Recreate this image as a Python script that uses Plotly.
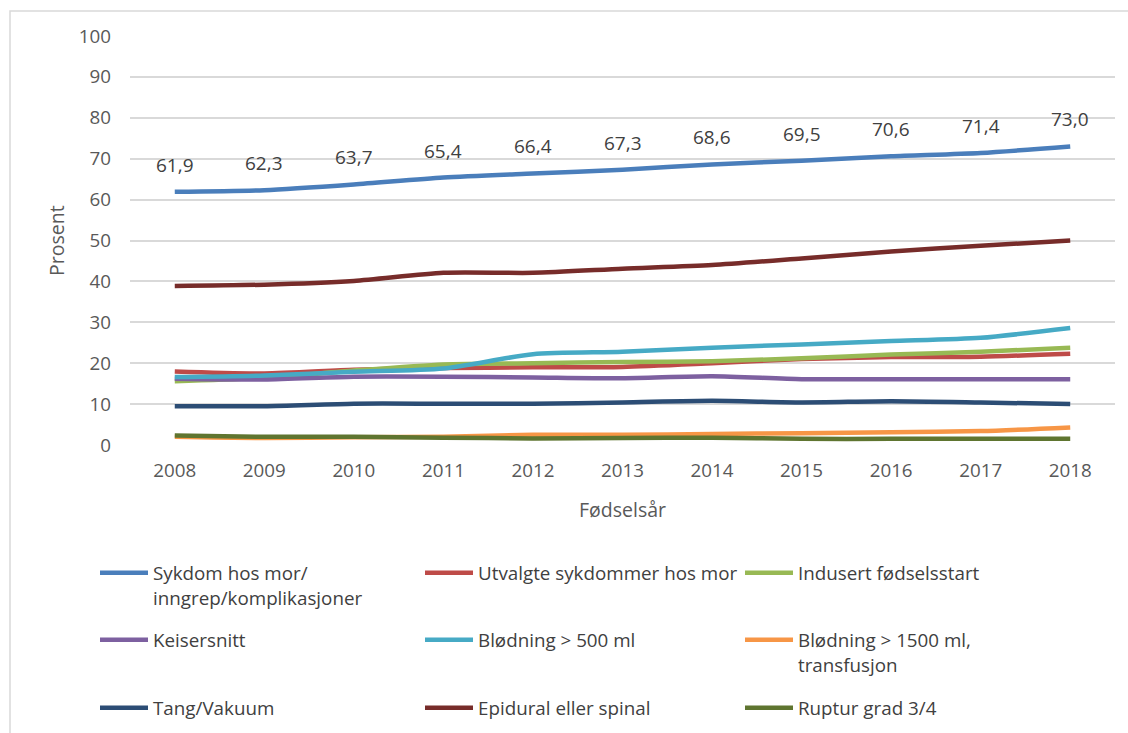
import plotly.graph_objects as go

# Fødselsår (x-axis categories)
years = [2008, 2009, 2010, 2011, 2012, 2013, 2014, 2015, 2016, 2017, 2018]

# Andel (prosent) per indikator
sykdom_hos_mor = [61.9, 62.3, 63.7, 65.4, 66.4, 67.3, 68.6, 69.5, 70.6, 71.4, 73.0]
utvalgte_sykdommer = [18.0, 17.5, 18.4, 18.8, 19.0, 19.1, 20.0, 21.0, 21.5, 21.6, 22.3]
indusert_start = [15.6, 16.4, 18.2, 19.7, 20.0, 20.3, 20.5, 21.2, 22.1, 22.8, 23.8]
keisersnitt = [16.2, 16.0, 16.7, 16.7, 16.5, 16.3, 16.8, 16.1, 16.1, 16.1, 16.1]
blodning_500 = [16.6, 17.0, 17.9, 18.7, 22.2, 22.8, 23.8, 24.6, 25.4, 26.2, 28.6]
blodning_1500 = [2.0, 1.7, 1.9, 2.0, 2.5, 2.5, 2.7, 2.9, 3.1, 3.4, 4.3]
tang_vakuum = [9.5, 9.5, 10.1, 10.1, 10.1, 10.4, 10.8, 10.4, 10.7, 10.4, 10.0]
epidural = [38.9, 39.2, 40.1, 42.1, 42.1, 43.1, 44.0, 45.6, 47.3, 48.7, 50.0]
ruptur = [2.3, 2.0, 2.0, 1.8, 1.6, 1.7, 1.8, 1.5, 1.5, 1.5, 1.5]

y_ticks = [0, 10, 20, 30, 40, 50, 60, 70, 80, 90, 100]

FONT = "Open Sans"
W, H = 1128, 733
ML, MR, MT, MB = 130, 13, 36, 288
PW = W - ML - MR
PH = H - MT - MB

# (navn, verdier, farge) in legend order: row by row, three columns
series = [
    ("Sykdom hos mor/<br>inngrep/komplikasjoner", sykdom_hos_mor, "#4A7EBB"),
    ("Utvalgte sykdommer hos mor", utvalgte_sykdommer, "#BE4B48"),
    ("Indusert fødselsstart", indusert_start, "#98B954"),
    ("Keisersnitt", keisersnitt, "#7D60A0"),
    ("Blødning > 500 ml", blodning_500, "#46AAC5"),
    ("Blødning > 1500 ml,<br>transfusjon", blodning_1500, "#F79646"),
    ("Tang/Vakuum", tang_vakuum, "#2C4D75"),
    ("Epidural eller spinal", epidural, "#772C2A"),
    ("Ruptur grad 3/4", ruptur, "#5F7530"),
]

# legend block layout (pixel positions of each entry's box)
legend_cols = [95, 420, 740]
legend_rows = [554, 621, 689]

fig = go.Figure()
layout_legends = {}
for i, (name, vals, color) in enumerate(series):
    lid = "legend" if i == 0 else f"legend{i + 1}"
    fig.add_trace(go.Scatter(
        x=years, y=vals, name=name, mode="lines",
        line=dict(color=color, width=4.5, shape="spline", smoothing=0.7),
        legend=lid, hoverinfo="skip",
    ))
    col, row = i % 3, i // 3
    layout_legends[lid] = dict(
        xref="container", yref="container",
        x=legend_cols[col] / W, y=1 - legend_rows[row] / H,
        xanchor="left", yanchor="top",
        bgcolor="rgba(0,0,0,0)", borderwidth=0,
        itemwidth=48, valign="top",
        font=dict(family=FONT, size=18.8, color="#404040"),
    )

# data labels on the top series
annotations = [
    dict(x=x, y=v, text=f"{v:.1f}".replace(".", ","), showarrow=False,
         yshift=27, font=dict(family=FONT, size=19, color="#404040"))
    for x, v in zip(years, sykdom_hos_mor)
]

# axis titles
title_font = dict(family=FONT, size=19.5, color="#595959")
annotations.append(dict(
    text="Fødselsår", xref="paper", yref="paper", showarrow=False,
    x=(622 - ML) / PW, y=(H - MB - 509) / PH, xanchor="center", yanchor="middle",
    font=title_font,
))
annotations.append(dict(
    text="Prosent", xref="paper", yref="paper", showarrow=False, textangle=-90,
    x=(57 - ML) / PW, y=(H - MB - 241) / PH, xanchor="center", yanchor="middle",
    font=title_font,
))

# chart-area frame
shapes = [dict(
    type="rect", xref="paper", yref="paper", layer="below",
    x0=(10 - ML) / PW, x1=(W + 5 - ML) / PW,
    y0=(H - MB - (H + 5)) / PH, y1=(H - MB - 11) / PH,
    line=dict(color="#D9D9D9", width=1.5), fillcolor="rgba(0,0,0,0)",
)]

fig.update_layout(
    width=W, height=H,
    margin=dict(l=ML, r=MR, t=MT, b=MB, pad=0, autoexpand=False),
    paper_bgcolor="white", plot_bgcolor="white",
    showlegend=True,
    annotations=annotations,
    shapes=shapes,
    font=dict(family=FONT, color="#595959"),
    **layout_legends,
)
fig.update_xaxes(
    range=[2007.5, 2018.5], tickvals=years, ticktext=[str(y) for y in years],
    showgrid=False, zeroline=False, showline=False, ticks="", automargin=False,
    tickfont=dict(family=FONT, size=18.8, color="#595959"),
    ticklabelstandoff=12,
)
fig.update_yaxes(
    range=[0, 100], tickvals=y_ticks, automargin=False,
    showgrid=True, gridcolor="#D9D9D9", gridwidth=1.5,
    zeroline=False, showline=False, ticks="",
    tickfont=dict(family=FONT, size=18.8, color="#595959"),
    ticklabelstandoff=18,
)

fig.write_html("out.html")
